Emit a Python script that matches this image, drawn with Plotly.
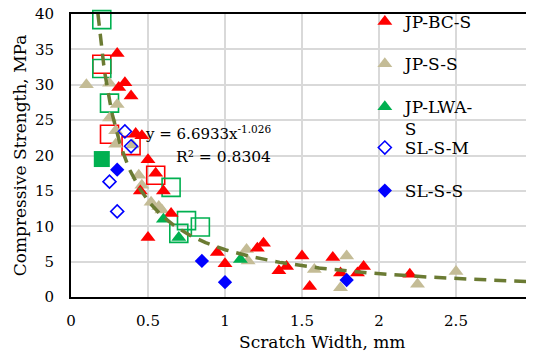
import numpy as np
import plotly.graph_objects as go

# ---- data ----
jp_bc_s_x = [0.30, 0.35, 0.31, 0.39, 0.42, 0.46, 0.50, 0.55, 0.45, 0.60, 0.65, 0.50,
             0.95, 1.00, 1.21, 1.25, 1.35, 1.40, 1.50, 1.55, 1.70, 1.75, 1.86, 1.90, 2.20]
jp_bc_s_y = [34.4, 30.3, 29.6, 28.4, 23.1, 22.8, 19.4, 17.5, 15.0, 15.0, 11.8, 8.4,
             6.3, 4.7, 6.9, 7.6, 3.7, 4.3, 5.8, 1.5, 5.6, 3.4, 3.4, 4.3, 3.2]

jp_s_s_x = [0.10, 0.25, 0.30, 0.25, 0.29, 0.29, 0.40, 0.44, 0.46, 0.52, 0.57, 0.59,
            1.14, 1.15, 1.58, 1.79, 1.75, 2.25, 2.50]
jp_s_s_y = [30.0, 30.2, 27.2, 25.3, 23.5, 21.6, 21.5, 17.2, 15.8, 13.4, 12.8, 12.3,
            6.7, 5.1, 3.9, 5.8, 1.3, 1.8, 3.6]

jp_lwa_s_x = [0.60, 0.70, 1.10]
jp_lwa_s_y = [11.0, 8.4, 5.3]

sl_s_m_x = [0.35, 0.39, 0.25, 0.30]
sl_s_m_y = [23.4, 21.3, 16.3, 12.1]

sl_s_s_x = [0.30, 0.85, 1.00, 1.79]
sl_s_s_y = [18.0, 5.1, 2.1, 2.4]

red_sq_x = [0.20, 0.25, 0.39, 0.55]
red_sq_y = [32.9, 23.0, 21.4, 17.2]

green_sq_x = [0.20, 0.20, 0.25, 0.65, 0.75, 0.84, 0.70]
green_sq_y = [39.2, 32.3, 27.4, 15.5, 10.8, 9.9, 9.0]

green_fill_sq_x = [0.20]
green_fill_sq_y = [19.5]

# power trendline y = a * x^b (equation shown on chart)
trend_a = 6.6933
trend_b = -1.026
trend_x_start = 0.175
trend_x_end = 3.0

x_ticks = [0, 0.5, 1, 1.5, 2, 2.5, 3]
x_tick_labels = ["0", "0.5", "1", "1.5", "2", "2.5", "3"]
y_ticks = [0, 5, 10, 15, 20, 25, 30, 35, 40]

FONT = "DejaVu Serif"
RED = "#FF0000"
TAN = "#C4BC96"
GREEN = "#00B050"
BLUE = "#0000FF"
OLIVE = "#6B7B33"

fig = go.Figure()

# extra (non-legend) square series
fig.add_trace(go.Scatter(x=red_sq_x, y=red_sq_y, mode="markers", showlegend=False, cliponaxis=False,
                         marker=dict(symbol="square-open", size=18, color=RED, line=dict(width=1.6))))
fig.add_trace(go.Scatter(x=green_sq_x, y=green_sq_y, mode="markers", showlegend=False, cliponaxis=False,
                         marker=dict(symbol="square-open", size=18, color=GREEN, line=dict(width=1.6))))
fig.add_trace(go.Scatter(x=green_fill_sq_x, y=green_fill_sq_y, mode="markers", showlegend=False,
                         cliponaxis=False, marker=dict(symbol="square", size=16, color=GREEN)))

fig.add_trace(go.Scatter(x=jp_s_s_x, y=jp_s_s_y, mode="markers", name="JP-S-S", legend="legend2",
                         cliponaxis=False, marker=dict(symbol="triangle-up", size=13, color=TAN)))
fig.add_trace(go.Scatter(x=jp_bc_s_x, y=jp_bc_s_y, mode="markers", name="JP-BC-S", legend="legend",
                         cliponaxis=False, marker=dict(symbol="triangle-up", size=13, color=RED)))
fig.add_trace(go.Scatter(x=jp_lwa_s_x, y=jp_lwa_s_y, mode="markers", name="JP-LWA-<br>S", legend="legend3",
                         cliponaxis=False, marker=dict(symbol="triangle-up", size=13, color=GREEN)))
fig.add_trace(go.Scatter(x=sl_s_m_x, y=sl_s_m_y, mode="markers", name="SL-S-M", legend="legend4",
                         cliponaxis=False,
                         marker=dict(symbol="diamond-open", size=10, color=BLUE, line=dict(width=1.6))))
fig.add_trace(go.Scatter(x=sl_s_s_x, y=sl_s_s_y, mode="markers", name="SL-S-S", legend="legend5",
                         cliponaxis=False, marker=dict(symbol="diamond", size=11, color=BLUE)))

tx = np.linspace(trend_x_start, trend_x_end, 300)
ty = trend_a * tx ** trend_b
fig.add_trace(go.Scatter(x=tx, y=ty, mode="lines", showlegend=False, hoverinfo="skip",
                         line=dict(color=OLIVE, width=3.5, dash="12px,8px")))

fig.add_annotation(xref="x", yref="y", x=1.31, y=23.2, xanchor="right", yanchor="middle",
                   text="y = 6.6933x<sup>-1.026</sup>", showarrow=False,
                   font=dict(family=FONT, size=15, color="black"))
fig.add_annotation(xref="x", yref="y", x=1.31, y=19.8, xanchor="right", yanchor="middle",
                   text="R² = 0.8304", showarrow=False,
                   font=dict(family=FONT, size=15.5, color="black"))

# x-axis title (placed as in the reference, slightly right of plot centre)
fig.add_annotation(xref="paper", yref="paper", x=0.543, y=-0.159, xanchor="center", yanchor="middle",
                   text="Scratch Width, mm", showarrow=False,
                   font=dict(family=FONT, size=17, color="black"))

legend_common = dict(bgcolor="rgba(0,0,0,0)", borderwidth=0, font=dict(family=FONT, size=17, color="black"),
                     itemwidth=30, xanchor="left", yanchor="middle", valign="top", x=0.636)
fig.update_layout(
    width=534, height=352,
    margin=dict(l=63, r=9, t=6, b=63, autoexpand=False),
    paper_bgcolor="white", plot_bgcolor="white",
    font=dict(family=FONT, size=15, color="black"),
    legend=dict(y=0.9717, **legend_common),
    legend2=dict(y=0.823, **legend_common),
    legend3=dict(y=0.632, **legend_common),
    legend4=dict(y=0.5265, **legend_common),
    legend5=dict(y=0.3746, **legend_common),
    xaxis=dict(range=[0, 3], tickvals=x_ticks, ticktext=x_tick_labels, automargin=False,
               showgrid=True, gridcolor="#D9D9D9", gridwidth=1.5, zeroline=False,
               showline=True, linecolor="black", linewidth=2, mirror=True, ticks="",
               ticklabelstandoff=9, ticklabeloverflow="allow",
               tickfont=dict(family=FONT, size=15)),
    yaxis=dict(range=[0, 40], tickvals=y_ticks, automargin=False,
               showgrid=True, gridcolor="#D9D9D9", gridwidth=1.5, zeroline=False,
               showline=True, linecolor="black", linewidth=2, mirror=True, ticks="",
               ticklabelstandoff=12, ticklabeloverflow="allow",
               title=dict(text="Compressive Strength, MPa", font=dict(family=FONT, size=17), standoff=4),
               tickfont=dict(family=FONT, size=15)),
)

fig.write_html("out.html")
